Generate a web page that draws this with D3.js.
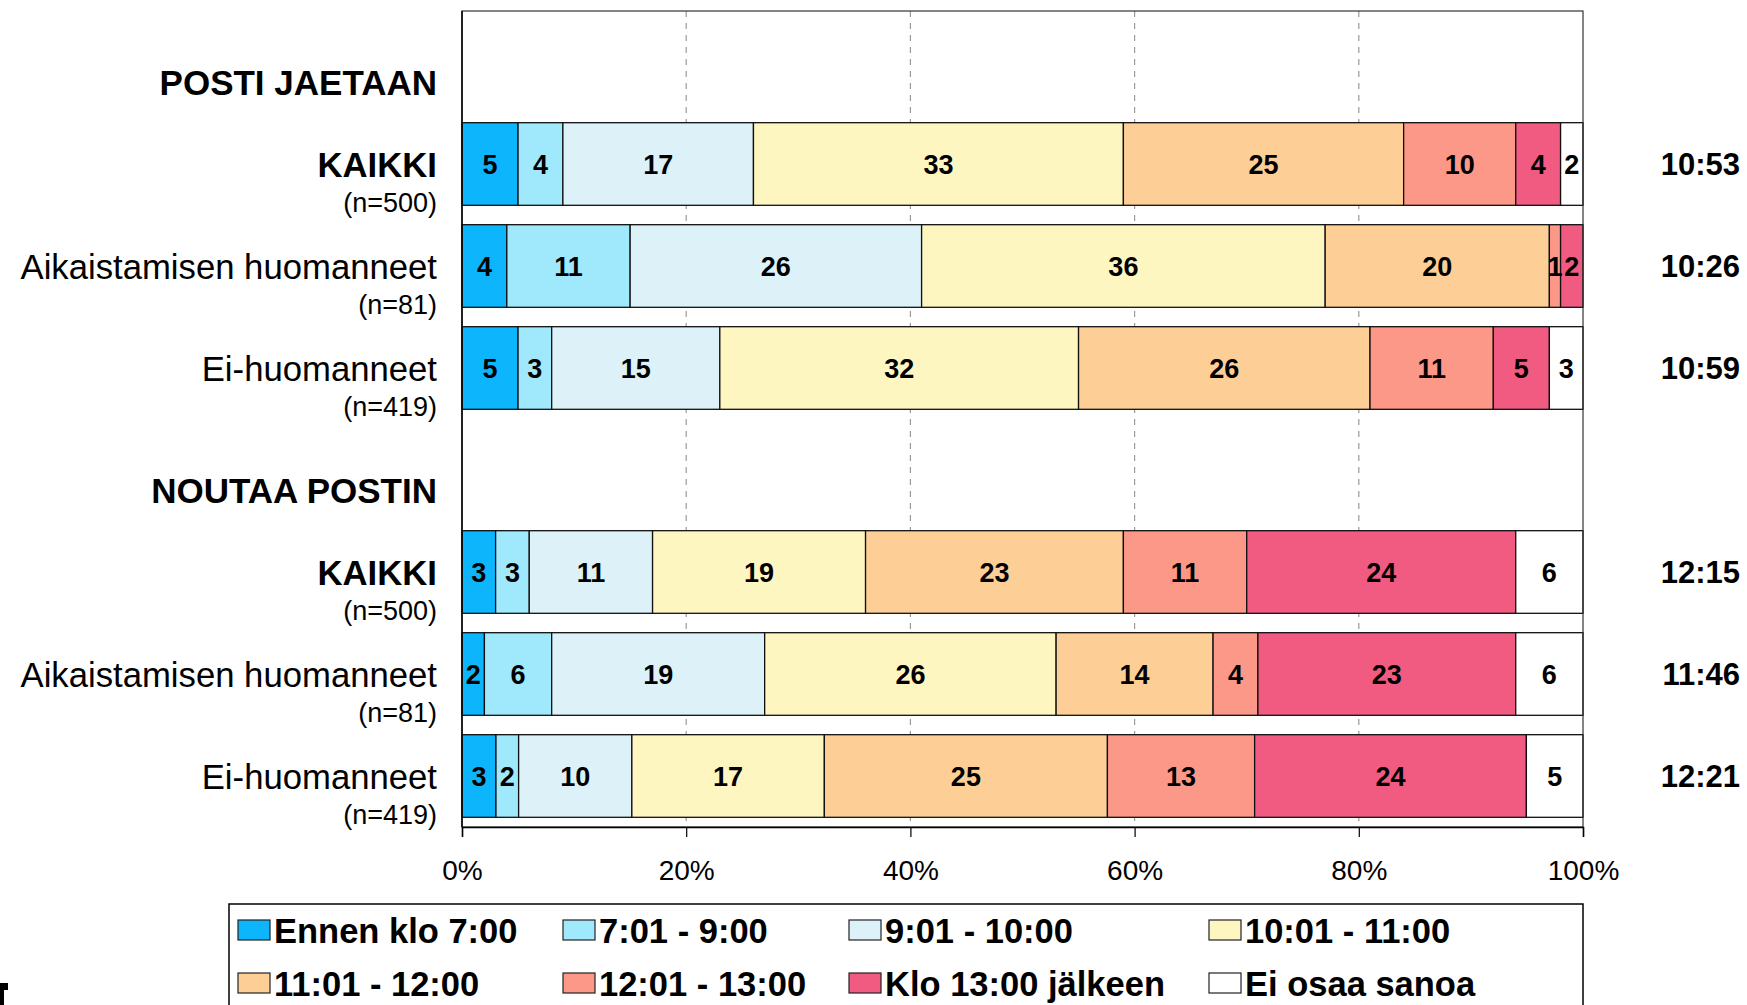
<!DOCTYPE html>
<html>
<head>
<meta charset="utf-8">
<script src="https://cdnjs.cloudflare.com/ajax/libs/d3/7.8.5/d3.min.js"></script>
<style>
  body { margin: 0; background: #fff; }
  svg { display: block; font-family: "Liberation Sans", Arial, sans-serif; }
</style>
</head>
<body>
<div id="chart"></div>
<script>
// time slots (legend order = stack order)
var slots = ["Ennen klo 7:00", "7:01 - 9:00", "9:01 - 10:00", "10:01 - 11:00",
             "11:01 - 12:00", "12:01 - 13:00", "Klo 13:00 jälkeen", "Ei osaa sanoa"];
var slotColors = ["#0cb5fc", "#a0e9fd", "#dcf2f8", "#fef6c1",
                  "#fdcf97", "#fc9887", "#f15b81", "#ffffff"];

var groups = ["POSTI JAETAAN", "NOUTAA POSTIN"];
var rowNames = ["KAIKKI", "Aikaistamisen huomanneet", "Ei-huomanneet"];
var rowN = ["(n=500)", "(n=81)", "(n=419)"];

// percentages per row, one value per slot
var postiJaetaan = [
    [5, 4, 17, 33, 25, 10, 4, 2],
    [4, 11, 26, 36, 20, 1, 2, 0],
    [5, 3, 15, 32, 26, 11, 5, 3]
];
var noutaaPostin = [
    [3, 3, 11, 19, 23, 11, 24, 6],
    [2, 6, 19, 26, 14, 4, 23, 6],
    [3, 2, 10, 17, 25, 13, 24, 5]
];
var avgTimes = [
    ["10:53", "10:26", "10:59"],
    ["12:15", "11:46", "12:21"]
];
var xTicks = [0, 20, 40, 60, 80, 100];

var W = 1747, H = 1005,
    plot = { left: 462, right: 1583, top: 11, bottom: 827 };

function chart() {
    var svg = d3.select("#chart").append("svg")
        .attr("width", W)
        .attr("height", H);

    // rows: header then three data rows per group
    var rows = [], dataRows = [];
    [postiJaetaan, noutaaPostin].forEach(function (g, gi) {
        rows.push({ key: "h" + gi, header: groups[gi] });
        g.forEach(function (vals, ri) {
            var r = { key: gi + "-" + ri, name: rowNames[ri], n: rowN[ri], time: avgTimes[gi][ri] };
            vals.forEach(function (v, i) { r[i] = v; });
            rows.push(r);
            dataRows.push(r);
        });
    });

    var y = d3.scaleBand()
        .domain(rows.map(function (d) { return d.key; }))
        .range([plot.top, plot.bottom])
        .paddingInner(0.19)
        .paddingOuter(0.095);

    var x = d3.scaleLinear()
        .domain([0, 100])
        .range([plot.left, plot.right]);

    var stack = d3.stack()
        .keys(d3.range(slots.length))
        .offset(d3.stackOffsetExpand);
    var series = stack(dataRows);

    // dashed gridlines
    svg.append("g").selectAll("line")
        .data(xTicks.slice(1, -1))
        .enter().append("line")
        .attr("x1", function (d) { return x(d); })
        .attr("x2", function (d) { return x(d); })
        .attr("y1", plot.top)
        .attr("y2", plot.bottom)
        .attr("stroke", "#9a9a9a")
        .attr("stroke-width", 1.2)
        .attr("stroke-dasharray", "6,6");

    // bars
    var layer = svg.append("g").selectAll("g")
        .data(series)
        .enter().append("g")
        .attr("fill", function (d, i) { return slotColors[i]; });

    layer.selectAll("rect")
        .data(function (d) { return d; })
        .enter().append("rect")
        .attr("x", function (d) { return x(d[0] * 100); })
        .attr("width", function (d) { return x(d[1] * 100) - x(d[0] * 100); })
        .attr("y", function (d) { return y(d.data.key); })
        .attr("height", y.bandwidth())
        .attr("stroke", "#111")
        .attr("stroke-width", 1.3);

    // value labels
    series.forEach(function (s, i) {
        svg.append("g").selectAll("text")
            .data(s.filter(function (d) { return d.data[i] > 0; }))
            .enter().append("text")
            .attr("x", function (d) { return x((d[0] + d[1]) / 2 * 100); })
            .attr("y", function (d) { return y(d.data.key) + y.bandwidth() / 2 + 10; })
            .attr("text-anchor", "middle")
            .attr("font-size", 27)
            .attr("font-weight", "bold")
            .attr("fill", "#000")
            .text(function (d) { return d.data[i]; });
    });

    // plot frame
    svg.append("rect")
        .attr("x", plot.left)
        .attr("y", plot.top)
        .attr("width", plot.right - plot.left)
        .attr("height", plot.bottom - plot.top)
        .attr("fill", "none")
        .attr("stroke", "#333")
        .attr("stroke-width", 1.2);

    svg.append("line")
        .attr("x1", plot.left).attr("x2", plot.left)
        .attr("y1", plot.top).attr("y2", plot.bottom)
        .attr("stroke", "#000").attr("stroke-width", 1.5);

    // x axis
    var xAxis = svg.append("g")
        .attr("transform", "translate(0," + plot.bottom + ")")
        .call(d3.axisBottom(x)
            .tickValues(xTicks)
            .tickSize(10)
            .tickPadding(23)
            .tickFormat(function (d) { return d + "%"; }));
    xAxis.select(".domain").attr("stroke", "#000").attr("stroke-width", 1.5);
    xAxis.selectAll(".tick line").attr("stroke", "#000").attr("stroke-width", 1.2);
    xAxis.selectAll("text")
        .attr("font-size", 28)
        .attr("font-family", "Liberation Sans, Arial, sans-serif")
        .attr("fill", "#000");

    // category labels
    var labels = svg.append("g").attr("text-anchor", "end");
    rows.forEach(function (r) {
        var cy = y(r.key) + y.bandwidth() / 2;
        if (r.header) {
            labels.append("text")
                .attr("x", 437).attr("y", cy + 33)
                .attr("font-size", 35).attr("font-weight", "bold")
                .text(r.header);
            return;
        }
        labels.append("text")
            .attr("x", 437).attr("y", cy + 12.5)
            .attr("font-size", 34.7)
            .attr("font-weight", r.name == "KAIKKI" ? "bold" : "normal")
            .text(r.name);
        labels.append("text")
            .attr("x", 437).attr("y", cy + 48)
            .attr("font-size", 27)
            .text(r.n);
        labels.append("text")
            .attr("x", 1740).attr("y", cy + 11)
            .attr("font-size", 31).attr("font-weight", "bold")
            .text(r.time);
    });

    // legend
    svg.append("rect")
        .attr("x", 229).attr("y", 904)
        .attr("width", plot.right - 229).attr("height", 120)
        .attr("fill", "#fff")
        .attr("stroke", "#000").attr("stroke-width", 1.5);

    var colX = [238, 563, 849, 1209], rowY = [920, 973];
    var items = svg.append("g").selectAll("g")
        .data(slots)
        .enter().append("g")
        .attr("transform", function (d, i) {
            return "translate(" + colX[i % 4] + "," + rowY[Math.floor(i / 4)] + ")";
        });
    items.append("rect")
        .attr("width", 32).attr("height", 20)
        .attr("fill", function (d, i) { return slotColors[i]; })
        .attr("stroke", "#222").attr("stroke-width", 1.2);
    items.append("text")
        .attr("x", 36).attr("y", 22.5)
        .attr("font-size", 34.5).attr("font-weight", "bold")
        .text(function (d) { return d; });

    // cropped mark at bottom-left corner of the original
    svg.append("path")
        .attr("d", "M0,983 H8 V990 H4 V1005 H0 Z")
        .attr("fill", "#000");
}

chart();
</script>
</body>
</html>
